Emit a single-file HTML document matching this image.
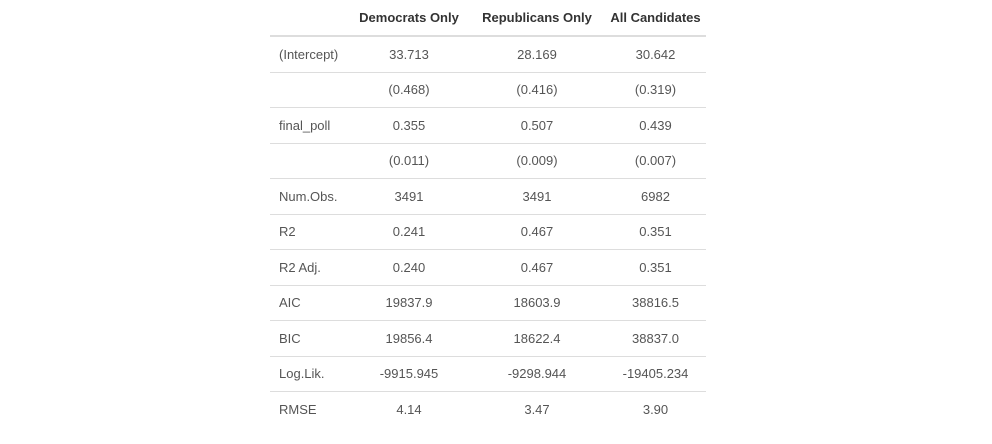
<!DOCTYPE html>
<html><head><meta charset="utf-8"><style>
html,body{margin:0;padding:0;background:#fff;width:992px;height:444px;overflow:hidden}
table{position:absolute;left:270px;top:0;width:436px;table-layout:fixed;border-collapse:collapse;font-family:"Liberation Sans",sans-serif;font-size:13px;color:#555}
th{height:35px;color:#333;font-weight:bold;text-align:center;border-bottom:2px solid #ddd;padding:0;white-space:nowrap}
td{height:34.5px;border-bottom:1px solid #ddd;text-align:center;padding:0}
tr:last-child td{border-bottom:none}
td:first-child{text-align:left;padding-left:9px}
</style></head><body>
<table>
<colgroup><col style="width:79px"><col style="width:120px"><col style="width:136px"><col style="width:101px"></colgroup>
<thead><tr><th></th><th>Democrats Only</th><th>Republicans Only</th><th>All Candidates</th></tr></thead>
<tbody>
<tr><td>(Intercept)</td><td>33.713</td><td>28.169</td><td>30.642</td></tr>
<tr><td></td><td>(0.468)</td><td>(0.416)</td><td>(0.319)</td></tr>
<tr><td>final_poll</td><td>0.355</td><td>0.507</td><td>0.439</td></tr>
<tr><td></td><td>(0.011)</td><td>(0.009)</td><td>(0.007)</td></tr>
<tr><td>Num.Obs.</td><td>3491</td><td>3491</td><td>6982</td></tr>
<tr><td>R2</td><td>0.241</td><td>0.467</td><td>0.351</td></tr>
<tr><td>R2 Adj.</td><td>0.240</td><td>0.467</td><td>0.351</td></tr>
<tr><td>AIC</td><td>19837.9</td><td>18603.9</td><td>38816.5</td></tr>
<tr><td>BIC</td><td>19856.4</td><td>18622.4</td><td>38837.0</td></tr>
<tr><td>Log.Lik.</td><td>-9915.945</td><td>-9298.944</td><td>-19405.234</td></tr>
<tr><td>RMSE</td><td>4.14</td><td>3.47</td><td>3.90</td></tr>
</tbody></table>
</body></html>
